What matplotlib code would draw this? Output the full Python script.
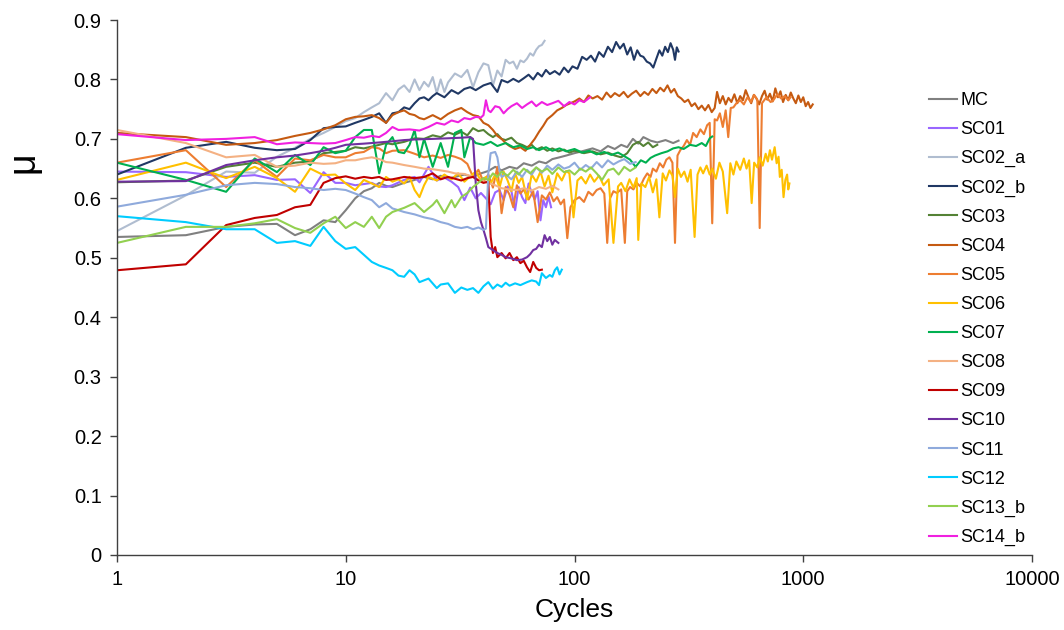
import matplotlib
matplotlib.use("Agg")
import matplotlib.pyplot as plt
from matplotlib.ticker import NullLocator

plt.rcParams['font.family'] = ['Liberation Sans', 'DejaVu Sans']

# cycles / friction coefficient for every test
mc_cycles = [1, 2, 3, 4, 5, 6, 7, 8, 9, 10, 11, 12, 13, 14, 15, 16, 18, 20, 22, 24, 26, 28, 30, 33, 36, 39, 42, 45,
             48, 52, 56, 60, 65, 70, 75, 80, 86, 92, 100, 110, 120, 130, 140, 150, 160, 170, 180, 190, 200, 215,
             230, 250, 270, 285]
mc_mu = [0.535, 0.538, 0.552, 0.556, 0.557, 0.538, 0.548, 0.563, 0.560, 0.580, 0.600, 0.612, 0.617, 0.626, 0.621,
         0.619, 0.626, 0.631, 0.636, 0.632, 0.638, 0.633, 0.636, 0.640, 0.636, 0.642, 0.646, 0.653, 0.647, 0.653,
         0.650, 0.659, 0.655, 0.662, 0.659, 0.666, 0.669, 0.672, 0.676, 0.680, 0.684, 0.679, 0.688, 0.683, 0.690,
         0.686, 0.700, 0.692, 0.703, 0.697, 0.694, 0.698, 0.693, 0.697]

sc01_cycles = [1, 2, 3, 4, 5, 6, 7, 8, 9, 10, 11, 12, 13, 14, 15, 16, 18, 20, 21, 23, 25, 27, 29, 31, 33, 35, 37, 39,
               41, 43, 45, 47, 49, 51, 53, 55, 57, 59, 61, 63, 65, 67, 69, 71, 73, 75, 77, 79]
sc01_mu = [0.645, 0.644, 0.636, 0.639, 0.631, 0.632, 0.609, 0.644, 0.626, 0.626, 0.622, 0.624, 0.626, 0.620, 0.619,
           0.622, 0.631, 0.636, 0.627, 0.653, 0.630, 0.635, 0.628, 0.619, 0.597, 0.618, 0.600, 0.609, 0.600, 0.590,
           0.610, 0.614, 0.597, 0.620, 0.612, 0.580, 0.619, 0.602, 0.592, 0.625, 0.609, 0.598, 0.612, 0.563, 0.597,
           0.585, 0.603, 0.585]

sc02a_cycles = [1, 2, 3, 4, 5, 6, 7, 8, 9, 10, 11, 12, 13, 14, 15, 16, 17, 18, 19, 20, 21, 22, 23, 24, 25, 26, 27,
                28, 30, 32, 34, 36, 38, 40, 42, 44, 46, 48, 50, 52, 54, 56, 58, 60, 62, 64, 66, 68, 70, 72, 74]
sc02a_mu = [0.545, 0.605, 0.645, 0.643, 0.670, 0.685, 0.700, 0.710, 0.720, 0.730, 0.735, 0.745, 0.753, 0.760, 0.777,
            0.765, 0.783, 0.790, 0.779, 0.800, 0.782, 0.796, 0.788, 0.804, 0.777, 0.800, 0.779, 0.795, 0.810, 0.804,
            0.816, 0.787, 0.812, 0.827, 0.824, 0.790, 0.815, 0.805, 0.833, 0.827, 0.830, 0.818, 0.832, 0.829, 0.835,
            0.844, 0.840, 0.850, 0.856, 0.858, 0.865]

sc02b_cycles = [1, 2, 3, 4, 5, 6, 7, 8, 9, 10, 11, 12, 13, 14, 15, 16, 17, 18, 19, 20, 21, 22, 23, 24, 25, 27, 29,
                31, 33, 35, 37, 40, 43, 46, 48, 51, 54, 57, 60, 63, 66, 69, 72, 75, 78, 82, 86, 90, 94, 98, 103,
                108, 113, 118, 123, 128, 134, 140, 146, 152, 158, 164, 170, 176, 182, 188, 194, 200, 207, 214, 221,
                228, 235, 242, 249, 256, 263, 270, 275, 280, 285]
sc02b_mu = [0.640, 0.685, 0.695, 0.685, 0.681, 0.683, 0.698, 0.718, 0.720, 0.721, 0.727, 0.732, 0.737, 0.743, 0.727,
            0.743, 0.745, 0.753, 0.750, 0.760, 0.768, 0.770, 0.765, 0.772, 0.777, 0.770, 0.782, 0.776, 0.784, 0.787,
            0.782, 0.790, 0.794, 0.779, 0.799, 0.795, 0.801, 0.796, 0.802, 0.808, 0.800, 0.811, 0.805, 0.816, 0.809,
            0.814, 0.808, 0.820, 0.812, 0.822, 0.818, 0.838, 0.833, 0.840, 0.830, 0.846, 0.838, 0.855, 0.846, 0.863,
            0.852, 0.860, 0.842, 0.854, 0.833, 0.849, 0.840, 0.838, 0.830, 0.827, 0.820, 0.835, 0.849, 0.840, 0.855,
            0.846, 0.861, 0.850, 0.833, 0.854, 0.847]

sc03_cycles = [1, 2, 3, 4, 5, 6, 7, 8, 9, 10, 11, 12, 13, 14, 15, 16, 18, 20, 22, 24, 26, 28, 30, 32, 34, 36, 38, 40,
               42, 44, 46, 48, 50, 53, 56, 59, 62, 65, 68, 72, 76, 80, 85, 90, 95, 100, 110, 120, 130, 140, 150, 160,
               170, 180, 190, 200, 210, 220, 230]
sc03_mu = [0.627, 0.630, 0.653, 0.660, 0.653, 0.660, 0.662, 0.676, 0.678, 0.680, 0.686, 0.684, 0.687, 0.690, 0.693,
           0.691, 0.695, 0.701, 0.700, 0.706, 0.703, 0.711, 0.707, 0.712, 0.706, 0.718, 0.713, 0.715, 0.708, 0.703,
           0.708, 0.700, 0.698, 0.702, 0.693, 0.690, 0.686, 0.690, 0.682, 0.686, 0.680, 0.684, 0.679, 0.682, 0.677,
           0.680, 0.676, 0.679, 0.674, 0.677, 0.672, 0.669, 0.676, 0.690, 0.695, 0.688, 0.694, 0.686, 0.690]

sc04_cycles = [1, 2, 3, 4, 5, 6, 7, 8, 9, 10, 11, 12, 13, 14, 15, 16, 17, 18, 19, 20, 21, 22, 24, 26, 28, 30, 32, 34,
               36, 38, 40, 42, 44, 46, 48, 50, 52, 55, 58, 61, 64, 67, 70, 73, 76, 80, 84, 88, 92, 96, 100, 105, 110,
               115, 120, 126, 132, 138, 144, 150, 157, 164, 171, 178, 186, 194, 202, 210, 219, 228, 237, 246, 255,
               264, 273, 283, 293, 303, 314, 325, 336, 348, 360, 372, 385, 398, 410, 420, 432, 445, 458, 471, 485,
               500, 515, 530, 545, 560, 576, 592, 608, 625, 642, 660, 678, 696, 715, 735, 755, 775, 795, 816, 838,
               860, 882, 905, 928, 952, 976, 1000, 1025, 1050, 1075, 1100]
sc04_mu = [0.710, 0.703, 0.690, 0.693, 0.698, 0.705, 0.710, 0.716, 0.723, 0.733, 0.737, 0.738, 0.740, 0.735, 0.727,
           0.740, 0.745, 0.748, 0.742, 0.740, 0.735, 0.733, 0.740, 0.733, 0.742, 0.748, 0.752, 0.745, 0.740, 0.738,
           0.727, 0.723, 0.715, 0.705, 0.700, 0.693, 0.688, 0.683, 0.686, 0.680, 0.690, 0.700, 0.712, 0.722, 0.733,
           0.740, 0.748, 0.752, 0.757, 0.760, 0.763, 0.768, 0.762, 0.773, 0.768, 0.772, 0.766, 0.778, 0.770, 0.777,
           0.772, 0.779, 0.770, 0.776, 0.781, 0.772, 0.779, 0.774, 0.784, 0.777, 0.786, 0.780, 0.790, 0.778, 0.784,
           0.772, 0.768, 0.762, 0.766, 0.755, 0.760, 0.750, 0.756, 0.748, 0.757, 0.745, 0.752, 0.779, 0.760, 0.772,
           0.758, 0.769, 0.762, 0.775, 0.760, 0.772, 0.765, 0.782, 0.770, 0.760, 0.774, 0.768, 0.758, 0.772, 0.781,
           0.766, 0.776, 0.763, 0.785, 0.770, 0.780, 0.762, 0.774, 0.765, 0.778, 0.768, 0.760, 0.773, 0.762, 0.770,
           0.755, 0.762, 0.752, 0.758]

sc05_cycles = [1, 2, 3, 4, 5, 6, 7, 8, 9, 10, 11, 12, 13, 14, 15, 16, 18, 20, 22, 24, 26, 28, 30, 32, 34, 36, 38, 40,
               42, 44, 46, 48, 50, 52, 54, 56, 58, 60, 63, 66, 69, 72, 75, 78, 81, 84, 87, 90, 93, 96, 100, 105, 110,
               115, 120, 125, 130, 135, 139, 143, 148, 153, 160, 166, 170, 175, 181, 187, 194, 201, 208, 215, 220,
               228, 236, 244, 252, 260, 268, 275, 282, 290, 300, 310, 320, 330, 342, 355, 368, 380, 390, 400, 410,
               420, 432, 445, 458, 470, 482, 495, 510, 530, 550, 570, 590, 610, 630, 645, 660, 690, 720, 740, 770,
               800, 830, 860, 880]
sc05_mu = [0.660, 0.681, 0.619, 0.664, 0.636, 0.667, 0.664, 0.673, 0.669, 0.669, 0.676, 0.678, 0.686, 0.684, 0.676,
           0.680, 0.681, 0.675, 0.669, 0.672, 0.668, 0.673, 0.670, 0.666, 0.658, 0.636, 0.648, 0.628, 0.640, 0.618,
           0.653, 0.575, 0.619, 0.606, 0.585, 0.622, 0.608, 0.615, 0.598, 0.612, 0.560, 0.605, 0.598, 0.610, 0.595,
           0.602, 0.590, 0.598, 0.533, 0.585, 0.597, 0.602, 0.594, 0.611, 0.605, 0.614, 0.617, 0.608, 0.525, 0.600,
           0.612, 0.609, 0.615, 0.525, 0.612, 0.619, 0.615, 0.626, 0.620, 0.633, 0.642, 0.636, 0.650, 0.645, 0.659,
           0.652, 0.665, 0.669, 0.660, 0.525, 0.672, 0.681, 0.688, 0.698, 0.690, 0.710, 0.703, 0.716, 0.708, 0.723,
           0.727, 0.558, 0.733, 0.731, 0.743, 0.720, 0.748, 0.703, 0.752, 0.753, 0.760, 0.765, 0.758, 0.770, 0.762,
           0.774, 0.765, 0.550, 0.760, 0.770, 0.762, 0.765, 0.775, 0.768, 0.772, 0.765, 0.770]

sc06_cycles = [1, 2, 3, 4, 5, 6, 7, 8, 9, 10, 11, 12, 13, 14, 15, 16, 17, 18, 19, 20, 21, 22, 23, 25, 27, 29, 31, 33,
               35, 37, 39, 41, 43, 45, 47, 49, 51, 53, 55, 57, 59, 62, 65, 68, 71, 74, 77, 80, 84, 88, 92, 95, 99,
               103, 107, 112, 117, 122, 128, 134, 141, 148, 155, 160, 167, 174, 181, 187, 190, 196, 204, 212, 220,
               228, 235, 243, 251, 260, 268, 275, 283, 292, 302, 312, 322, 335, 345, 355, 365, 378, 390, 400, 415,
               430, 445, 465, 480, 495, 510, 530, 550, 565, 580, 595, 610, 630, 645, 665, 685, 700, 715, 730, 750,
               765, 780, 790, 805, 820, 835, 850, 860, 870]
sc06_mu = [0.631, 0.660, 0.634, 0.653, 0.634, 0.611, 0.650, 0.639, 0.640, 0.625, 0.614, 0.631, 0.625, 0.619, 0.636,
           0.628, 0.632, 0.625, 0.636, 0.614, 0.602, 0.622, 0.636, 0.630, 0.640, 0.632, 0.642, 0.628, 0.637, 0.645,
           0.630, 0.636, 0.625, 0.640, 0.618, 0.645, 0.630, 0.612, 0.642, 0.626, 0.636, 0.598, 0.640, 0.628, 0.645,
           0.620, 0.638, 0.610, 0.642, 0.630, 0.646, 0.642, 0.568, 0.630, 0.636, 0.625, 0.640, 0.628, 0.638, 0.622,
           0.632, 0.525, 0.620, 0.626, 0.612, 0.632, 0.618, 0.634, 0.530, 0.625, 0.619, 0.636, 0.610, 0.632, 0.568,
           0.642, 0.630, 0.647, 0.638, 0.602, 0.650, 0.636, 0.645, 0.628, 0.648, 0.535, 0.640, 0.652, 0.642, 0.655,
           0.640, 0.650, 0.633, 0.660, 0.645, 0.575, 0.659, 0.640, 0.662, 0.648, 0.667, 0.650, 0.664, 0.592, 0.660,
           0.652, 0.669, 0.655, 0.675, 0.662, 0.681, 0.665, 0.686, 0.659, 0.670, 0.636, 0.648, 0.602, 0.631, 0.640,
           0.615, 0.625]

sc07_cycles = [1, 2, 3, 4, 5, 6, 7, 8, 9, 10, 11, 12, 13, 14, 15, 16, 17, 18, 19, 20, 21, 22, 24, 26, 28, 30, 32, 33,
               35, 37, 40, 43, 46, 50, 54, 58, 62, 66, 70, 75, 80, 86, 92, 100, 108, 116, 125, 135, 145, 155, 165,
               175, 185, 195, 205, 215, 225, 240, 255, 270, 285, 300, 320, 340, 360, 375, 390, 400]
sc07_mu = [0.660, 0.631, 0.611, 0.667, 0.644, 0.673, 0.656, 0.686, 0.676, 0.680, 0.703, 0.715, 0.715, 0.642, 0.690,
           0.703, 0.678, 0.676, 0.690, 0.715, 0.669, 0.700, 0.653, 0.693, 0.653, 0.710, 0.715, 0.669, 0.703, 0.693,
           0.690, 0.695, 0.688, 0.693, 0.686, 0.689, 0.683, 0.686, 0.681, 0.686, 0.680, 0.684, 0.679, 0.683, 0.677,
           0.680, 0.674, 0.678, 0.673, 0.677, 0.671, 0.665, 0.653, 0.664, 0.660, 0.668, 0.672, 0.676, 0.679, 0.684,
           0.686, 0.683, 0.690, 0.688, 0.693, 0.688, 0.701, 0.704]

sc08_cycles = [1, 2, 3, 4, 5, 6, 7, 8, 9, 10, 11, 12, 13, 14, 15, 16, 18, 20, 22, 24, 26, 28, 30, 33, 36, 39, 42, 45,
               48, 52, 56, 60, 65, 70, 75, 80, 85]
sc08_mu = [0.715, 0.693, 0.669, 0.673, 0.653, 0.655, 0.660, 0.658, 0.659, 0.664, 0.664, 0.667, 0.669, 0.666, 0.661,
           0.660, 0.656, 0.653, 0.650, 0.649, 0.647, 0.645, 0.642, 0.641, 0.636, 0.630, 0.626, 0.622, 0.617, 0.615,
           0.614, 0.617, 0.613, 0.619, 0.616, 0.621, 0.615]

sc09_cycles = [1, 2, 3, 4, 5, 6, 7, 8, 9, 10, 11, 12, 13, 14, 15, 16, 18, 20, 22, 24, 26, 28, 30, 32, 34, 36, 38, 40,
               42, 43, 44, 45, 46, 48, 50, 52, 54, 56, 58, 60, 62, 64, 66, 68, 70, 72]
sc09_mu = [0.479, 0.489, 0.555, 0.567, 0.572, 0.585, 0.589, 0.626, 0.634, 0.637, 0.633, 0.636, 0.634, 0.636, 0.631,
           0.632, 0.636, 0.634, 0.636, 0.642, 0.632, 0.636, 0.633, 0.630, 0.634, 0.636, 0.630, 0.626, 0.628, 0.535,
           0.508, 0.518, 0.501, 0.508, 0.499, 0.508, 0.496, 0.501, 0.491, 0.495, 0.484, 0.476, 0.493, 0.483, 0.479,
           0.480]

sc10_cycles = [1, 2, 3, 4, 5, 6, 7, 8, 9, 10, 12, 14, 16, 18, 20, 24, 28, 32, 35, 36, 37, 38, 39, 40, 41, 42, 44, 46,
               48, 50, 53, 56, 59, 62, 64, 66, 68, 70, 72, 74, 76, 78, 80, 82, 85]
sc10_mu = [0.628, 0.629, 0.656, 0.664, 0.669, 0.672, 0.676, 0.680, 0.685, 0.690, 0.692, 0.694, 0.696, 0.698, 0.699,
           0.700, 0.701, 0.702, 0.703, 0.700, 0.626, 0.580, 0.560, 0.547, 0.533, 0.518, 0.513, 0.508, 0.505, 0.501,
           0.499, 0.496, 0.497, 0.501, 0.506, 0.513, 0.515, 0.522, 0.518, 0.538, 0.528, 0.535, 0.522, 0.530, 0.525]

sc11_cycles = [1, 2, 3, 4, 5, 6, 7, 8, 9, 10, 11, 12, 13, 14, 15, 16, 17, 18, 20, 22, 24, 26, 28, 30, 32, 34, 36, 38,
               40, 41, 42, 43, 45, 46, 47, 48, 50, 53, 56, 59, 62, 65, 68, 72, 76, 80, 85, 90, 95, 100, 106, 112,
               118, 125, 132, 140, 148, 156, 165, 175, 185]
sc11_mu = [0.586, 0.606, 0.622, 0.626, 0.624, 0.619, 0.617, 0.614, 0.616, 0.614, 0.608, 0.602, 0.597, 0.585, 0.592,
           0.583, 0.580, 0.577, 0.573, 0.568, 0.565, 0.560, 0.557, 0.552, 0.550, 0.552, 0.548, 0.551, 0.547, 0.549,
           0.642, 0.676, 0.678, 0.669, 0.647, 0.636, 0.640, 0.632, 0.645, 0.636, 0.648, 0.640, 0.652, 0.643, 0.655,
           0.648, 0.657, 0.650, 0.653, 0.660, 0.648, 0.656, 0.650, 0.661, 0.652, 0.664, 0.657, 0.662, 0.666, 0.658,
           0.661]

sc12_cycles = [1, 2, 3, 4, 5, 6, 7, 8, 9, 10, 11, 12, 13, 14, 15, 16, 17, 18, 19, 20, 21, 23, 25, 26, 28, 30, 32, 34,
               36, 38, 40, 42, 44, 46, 48, 50, 52, 55, 58, 62, 65, 68, 70, 72, 75, 78, 80, 82, 84, 86, 88]
sc12_mu = [0.570, 0.560, 0.548, 0.548, 0.525, 0.528, 0.520, 0.552, 0.528, 0.515, 0.518, 0.505, 0.493, 0.487, 0.483,
           0.479, 0.470, 0.468, 0.479, 0.472, 0.459, 0.465, 0.449, 0.455, 0.457, 0.441, 0.450, 0.446, 0.449, 0.441,
           0.452, 0.459, 0.448, 0.455, 0.451, 0.458, 0.453, 0.457, 0.454, 0.459, 0.462, 0.460, 0.454, 0.474, 0.466,
           0.471, 0.468, 0.479, 0.484, 0.472, 0.480]

sc13b_cycles = [1, 2, 3, 4, 5, 6, 7, 8, 9, 10, 11, 12, 13, 14, 15, 16, 18, 20, 22, 24, 25, 27, 29, 30, 32, 34, 36, 38,
                40, 42, 44, 46, 48, 51, 54, 57, 60, 64, 68, 72, 76, 80, 85, 90, 95, 100, 106, 112, 118, 125, 132,
                140, 148, 156, 165, 175, 185]
sc13b_mu = [0.525, 0.552, 0.552, 0.558, 0.565, 0.550, 0.542, 0.558, 0.569, 0.550, 0.560, 0.552, 0.569, 0.550, 0.569,
            0.577, 0.584, 0.592, 0.577, 0.589, 0.597, 0.575, 0.597, 0.585, 0.602, 0.609, 0.619, 0.626, 0.634, 0.631,
            0.642, 0.636, 0.645, 0.638, 0.648, 0.640, 0.650, 0.642, 0.652, 0.645, 0.650, 0.641, 0.652, 0.644, 0.647,
            0.640, 0.650, 0.645, 0.652, 0.642, 0.631, 0.647, 0.650, 0.640, 0.653, 0.646, 0.652]

sc14b_cycles = [1, 2, 3, 4, 5, 6, 7, 8, 9, 10, 11, 12, 13, 14, 15, 16, 17, 19, 21, 23, 25, 27, 29, 31, 33, 35, 37, 39,
                40, 41, 42, 43, 45, 47, 49, 51, 53, 56, 59, 62, 65, 68, 72, 76, 80, 85, 90, 95, 100, 105, 110, 117]
sc14b_mu = [0.708, 0.698, 0.700, 0.703, 0.691, 0.694, 0.693, 0.692, 0.693, 0.698, 0.703, 0.702, 0.705, 0.703, 0.710,
            0.720, 0.715, 0.716, 0.714, 0.720, 0.727, 0.724, 0.731, 0.728, 0.735, 0.733, 0.737, 0.736, 0.740, 0.765,
            0.748, 0.745, 0.755, 0.753, 0.743, 0.750, 0.755, 0.760, 0.752, 0.758, 0.763, 0.755, 0.762, 0.757, 0.760,
            0.764, 0.755, 0.762, 0.758, 0.765, 0.762, 0.770]

series = [
    ("MC", mc_cycles, mc_mu, "#808080"),
    ("SC01", sc01_cycles, sc01_mu, "#9966ff"),
    ("SC02_a", sc02a_cycles, sc02a_mu, "#b0bdd0"),
    ("SC02_b", sc02b_cycles, sc02b_mu, "#203864"),
    ("SC03", sc03_cycles, sc03_mu, "#548235"),
    ("SC04", sc04_cycles, sc04_mu, "#c55a11"),
    ("SC05", sc05_cycles, sc05_mu, "#ed7d31"),
    ("SC06", sc06_cycles, sc06_mu, "#ffc000"),
    ("SC07", sc07_cycles, sc07_mu, "#00b050"),
    ("SC08", sc08_cycles, sc08_mu, "#f4b183"),
    ("SC09", sc09_cycles, sc09_mu, "#c00000"),
    ("SC10", sc10_cycles, sc10_mu, "#7030a0"),
    ("SC11", sc11_cycles, sc11_mu, "#8faadc"),
    ("SC12", sc12_cycles, sc12_mu, "#00ccff"),
    ("SC13_b", sc13b_cycles, sc13b_mu, "#92d050"),
    ("SC14_b", sc14b_cycles, sc14b_mu, "#f020e0"),
]

yTicks = [0, 0.1, 0.2, 0.3, 0.4, 0.5, 0.6, 0.7, 0.8, 0.9]
yTickLabels = ["0", "0.1", "0.2", "0.3", "0.4", "0.5", "0.6", "0.7", "0.8", "0.9"]
xTicks = [1, 10, 100, 1000, 10000]
xTickLabels = ["1", "10", "100", "1000", "10000"]

fig = plt.figure(figsize=(10.64, 6.3), dpi=100)
ax = fig.add_axes([117 / 1064, 75 / 630, 915 / 1064, 535 / 630])

for name, cycles, mu, colour in series:
    ax.plot(cycles, mu, color=colour, linewidth=1.5, label=name)

ax.set_xscale("log")
ax.set_xlim(1, 10000)
ax.set_ylim(0, 0.9)
ax.set_xticks(xTicks)
ax.set_xticklabels(xTickLabels)
ax.xaxis.set_minor_locator(NullLocator())
ax.set_yticks(yTicks)
ax.set_yticklabels(yTickLabels)
ax.tick_params(labelsize=14.5, length=5, width=1, color="#404040", pad=6)

for side in ["top", "right"]:
    ax.spines[side].set_visible(False)
for side in ["left", "bottom"]:
    ax.spines[side].set_color("#404040")
    ax.spines[side].set_linewidth(1)

ax.set_xlabel("Cycles", fontsize=19, labelpad=6)
ax.set_ylabel("μ", fontsize=27, labelpad=0)
ax.yaxis.set_label_coords(-0.082, 0.735)

fig.legend(loc="upper left", bbox_to_anchor=(929 / 1064, 1 - 92 / 630), frameon=False, fontsize=13,
           handlelength=1.55, handletextpad=0.2, labelspacing=0.67, borderpad=0, borderaxespad=0)

fig.savefig("out.png", dpi=100)
